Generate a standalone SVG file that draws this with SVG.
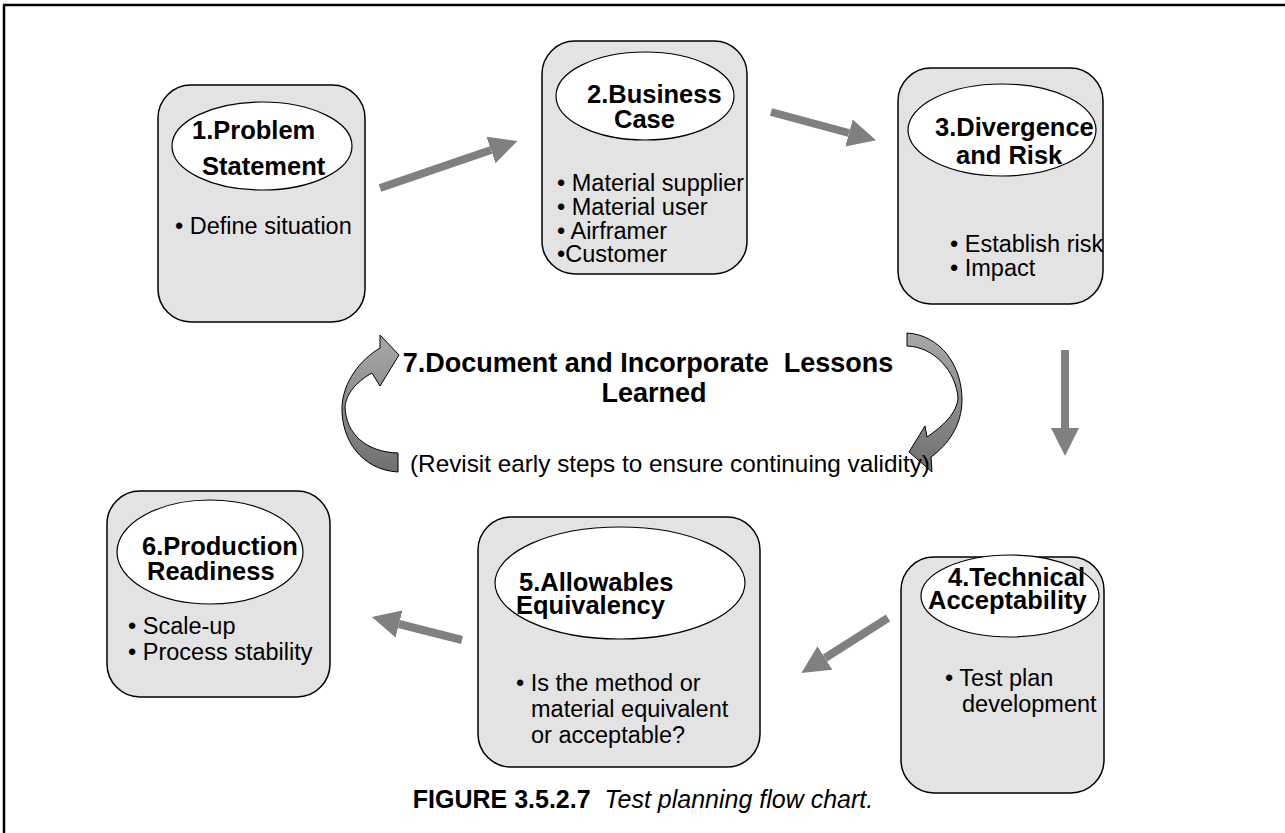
<svg xmlns="http://www.w3.org/2000/svg" width="1285" height="833" viewBox="0 0 1285 833">
<style>
.box{fill:#e3e3e3;stroke:#000;stroke-width:1.5}
.ell{fill:#fff;stroke:#000;stroke-width:1.2}
.h{font-family:"Liberation Sans",Arial,sans-serif;font-weight:bold;font-size:25.5px;fill:#000}
.t{font-family:"Liberation Sans",Arial,sans-serif;font-size:23.5px;fill:#000}
.sh{stroke:#808080;stroke-width:8;fill:none;marker-end:url(#ah)}
.curv{fill:url(#cg);stroke:#000;stroke-width:1}
</style>
<defs>
<marker id="ah" markerUnits="userSpaceOnUse" markerWidth="28" markerHeight="28" viewBox="0 0 28 28" refX="0" refY="14" orient="auto">
<path d="M0,0 L28,14 L0,28 Z" fill="#808080"/>
</marker>
<linearGradient id="cg" x1="0" y1="0" x2="0" y2="1">
<stop offset="0" stop-color="#a8a8a8"/>
<stop offset="1" stop-color="#707070"/>
</linearGradient>
</defs>
<rect width="1285" height="833" fill="#fff"/>
<g id="frame" stroke="#000" stroke-width="2.5">
<line x1="3" y1="5" x2="1285" y2="5"/>
<line x1="4" y1="5" x2="4" y2="833"/>
</g>
<g id="connectors">
<line class="sh" x1="380" y1="188" x2="491" y2="150"/>
<line class="sh" x1="771" y1="112" x2="849" y2="133"/>
<line class="sh" x1="1065" y1="350" x2="1065" y2="428"/>
<line class="sh" x1="888" y1="618" x2="825" y2="658"/>
<line class="sh" x1="462" y1="640" x2="399" y2="624"/>
<path class="curv" d="M398,472 C362,470 341,440 342,407 C343,382 360,360 380,348 L380,335 L399,355 L380,386 L372,373 C356,382 346,394 345,407 C346,434 366,452 398,453 Z"/>
<path class="curv" d="M907,333 C940,335 962,365 962,400 C962,425 948,445 931,457 L932,472 L909,452 L925,426 L927,437 C943,426 957,413 958,398 C956,372 935,347 907,346 Z"/>
</g>
<g id="node1">
<rect class="box" x="158" y="85" width="207" height="237" rx="33"/>
<ellipse class="ell" cx="262" cy="146" rx="90" ry="44"/>
<text class="h" x="192" y="139">1.Problem</text>
<text class="h" x="202" y="175">Statement</text>
<text class="t" x="175" y="234">• Define situation</text>
</g>
<g id="node2">
<rect class="box" x="542" y="41" width="205" height="233" rx="33"/>
<ellipse class="ell" cx="645" cy="96" rx="89" ry="44"/>
<text class="h" x="587" y="103">2.Business</text>
<text class="h" x="614" y="128">Case</text>
<text class="t" x="557" y="191">• Material supplier</text>
<text class="t" x="557" y="215">• Material user</text>
<text class="t" x="557" y="239">• Airframer</text>
<text class="t" x="557" y="262">•Customer</text>
</g>
<g id="node3">
<rect class="box" x="898" y="68" width="205" height="236" rx="33"/>
<ellipse class="ell" cx="1002" cy="130" rx="94" ry="46"/>
<text class="h" x="935" y="136">3.Divergence</text>
<text class="h" x="956" y="164">and Risk</text>
<text class="t" x="950" y="252">• Establish risk</text>
<text class="t" x="950" y="276">• Impact</text>
</g>
<g id="node4">
<rect class="box" x="901" y="557" width="203" height="236" rx="33"/>
<ellipse class="ell" cx="1010" cy="596" rx="89" ry="41"/>
<text class="h" x="948" y="586">4.Technical</text>
<text class="h" x="928" y="609">Acceptability</text>
<text class="t" x="945" y="686">• Test plan</text>
<text class="t" x="962" y="712">development</text>
</g>
<g id="node5">
<rect class="box" x="478" y="517" width="282" height="250" rx="33"/>
<ellipse class="ell" cx="620" cy="583" rx="125" ry="56"/>
<text class="h" x="519" y="591">5.Allowables</text>
<text class="h" x="516" y="614">Equivalency</text>
<text class="t" x="516" y="691">• Is the method or</text>
<text class="t" x="531" y="717">material equivalent</text>
<text class="t" x="531" y="743">or acceptable?</text>
</g>
<g id="node6">
<rect class="box" x="107" y="491" width="223" height="206" rx="33"/>
<ellipse class="ell" cx="210" cy="552" rx="93" ry="52"/>
<text class="h" x="142" y="555">6.Production</text>
<text class="h" x="147" y="580">Readiness</text>
<text class="t" x="128" y="634">• Scale-up</text>
<text class="t" x="128" y="660">• Process stability</text>
</g>
<g id="node7">
<text class="h" x="648" y="372" text-anchor="middle" style="font-size:27px" xml:space="preserve">7.Document and Incorporate  Lessons</text>
<text class="h" x="654" y="402" text-anchor="middle" style="font-size:27px">Learned</text>
<text class="t" x="410" y="472" style="font-size:24.3px">(Revisit early steps to ensure continuing validity)</text>
</g>
<g id="caption">
<text x="643" y="808" text-anchor="middle" font-family="Liberation Sans, Arial, sans-serif" font-size="25" xml:space="preserve"><tspan font-weight="bold">FIGURE 3.5.2.7</tspan>  <tspan font-style="italic">Test planning flow chart.</tspan></text>
</g>
</svg>
